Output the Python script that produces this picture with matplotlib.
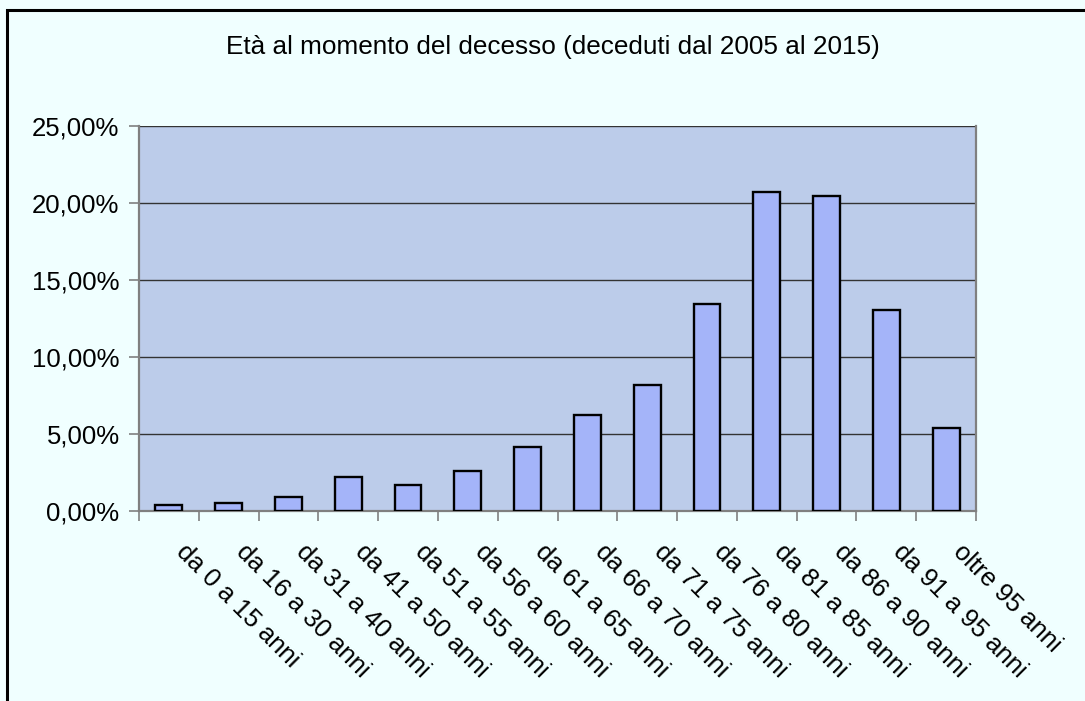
import numpy as np
import matplotlib.pyplot as plt
from matplotlib.patches import Rectangle
from matplotlib.ticker import FuncFormatter, MultipleLocator

plt.rcParams['font.family'] = ['Liberation Sans', 'DejaVu Sans']

categories = ['da 0 a 15 anni', 'da 16 a 30 anni', 'da 31 a 40 anni', 'da 41 a 50 anni',
              'da 51 a 55 anni', 'da 56 a 60 anni', 'da 61 a 65 anni', 'da 66 a 70 anni',
              'da 71 a 75 anni', 'da 76 a 80 anni', 'da 81 a 85 anni', 'da 86 a 90 anni',
              'da 91 a 95 anni', 'oltre 95 anni']
values = [0.39, 0.54, 0.91, 2.21, 1.71, 2.60, 4.17, 6.25, 8.20, 13.41, 20.70, 20.46, 13.02, 5.36]
title = 'Età al momento del decesso (deceduti dal 2005 al 2015)'

fig = plt.figure(figsize=(10.85, 7.01), dpi=100)
fig.patch.set_facecolor('#F0FFFF')
ax = fig.add_axes([139/1085, 1-511/701, (976-139)/1085, (511-126)/701])
ax.set_facecolor('#BCCCEA')

x = np.arange(len(categories))
ax.bar(x, values, width=0.45, color='#A4B4F9', edgecolor='black', linewidth=1.7, zorder=3)

ax.set_xlim(-0.5, len(categories) - 0.5)
ax.set_ylim(0, 25)
ax.yaxis.set_major_locator(MultipleLocator(5))
ax.yaxis.set_major_formatter(FuncFormatter(lambda v, p: f'{v:.2f}%'.replace('.', ',')))
ax.grid(axis='y', color='#333333', linewidth=1.0, zorder=1)

# category ticks sit between bars
ax.set_xticks(np.arange(len(categories) + 1) - 0.5)
ax.set_xticklabels([])
for i, lab in enumerate(categories):
    ax.annotate(lab, xy=(i, 0), xycoords=('data', 'axes fraction'),
                xytext=(8, -27), textcoords='offset points',
                rotation=-45, rotation_mode='anchor', ha='left', va='center',
                fontsize=18.5)

ax.tick_params(axis='x', length=7, width=1.2, color='#808080')
ax.tick_params(axis='y', length=7, width=1.2, color='#808080', labelsize=18.5, pad=7)
ax.spines['top'].set_visible(False)
for s in ['left', 'bottom', 'right']:
    ax.spines[s].set_color('#808080')
    ax.spines[s].set_linewidth(1.6)

fig.text(553/1085, 1-47/701, title, ha='center', va='center', fontsize=18.8)

fig.patches.append(Rectangle((7/1085, -0.1), 1.2, 1.1 - 10/701, transform=fig.transFigure,
                             fill=False, edgecolor='black', linewidth=2.2, clip_on=False))

fig.savefig('out.png', dpi=100, facecolor=fig.get_facecolor())
